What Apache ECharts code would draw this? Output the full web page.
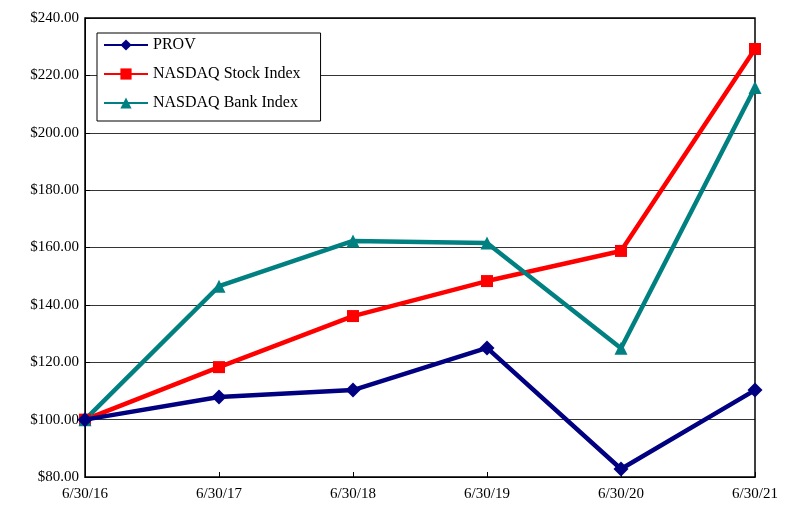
<!DOCTYPE html>
<html><head><meta charset="utf-8">
<script src="https://cdn.jsdelivr.net/npm/echarts@6/dist/echarts.min.js"></script>
<style>html,body{margin:0;padding:0;background:#fff}#c{width:788px;height:511px}</style>
</head><body><div id="c"></div>
<script>
const categories = ['6/30/16','6/30/17','6/30/18','6/30/19','6/30/20','6/30/21'];
const prov = [100, 107.9, 110.3, 125.0, 82.8, 110.3];
const nasdaq = [100, 118.3, 136.1, 148.3, 158.8, 229.2];
const bank = [100, 146.5, 162.3, 161.6, 124.9, 215.8];
const font = 'Liberation Serif';
const chart = echarts.init(document.getElementById('c'));
function s(name, data, color, symbol, size) {
  return {name, type:'line', data, symbol, symbolSize:size, lineStyle:{color, width:4.5},
    itemStyle:{color}, z: name==='PROV'?3:2};
}
chart.setOption({
  animation:false,
  textStyle:{fontFamily:font},
  grid:{left:85, right:33, top:18, bottom:34, show:true, borderColor:'#000', borderWidth:1.5},
  legend:{orient:'vertical', left:97, top:33, padding:[4,20,10,6], itemGap:13, itemStyle:{borderWidth:0},
    backgroundColor:'#fff', borderColor:'#000', borderWidth:1, itemWidth:44, itemHeight:14,
    textStyle:{fontFamily:font, fontSize:16, color:'#000'},
    data:['PROV','NASDAQ Stock Index','NASDAQ Bank Index']},
  xAxis:{type:'category', data:categories, boundaryGap:false,
    axisLine:{lineStyle:{color:'#000'}}, axisTick:{show:true, inside:true, lineStyle:{color:'#000'}},
    axisLabel:{color:'#000', fontSize:15, fontFamily:font, margin:10}},
  yAxis:{type:'value', min:80, max:240, interval:20,
    axisLine:{show:true, lineStyle:{color:'#000'}}, axisTick:{show:true, inside:true, lineStyle:{color:'#000'}},
    splitLine:{lineStyle:{color:'#000', width:0.8}},
    axisLabel:{color:'#000', fontSize:15, fontFamily:font, margin:6, formatter:v=>'$'+v.toFixed(2)}},
  series:[
    s('PROV', prov, '#000080', 'diamond', 15),
    s('NASDAQ Stock Index', nasdaq, '#ff0000', 'rect', 12),
    s('NASDAQ Bank Index', bank, '#008080', 'triangle', 13)
  ]
});
</script></body></html>
